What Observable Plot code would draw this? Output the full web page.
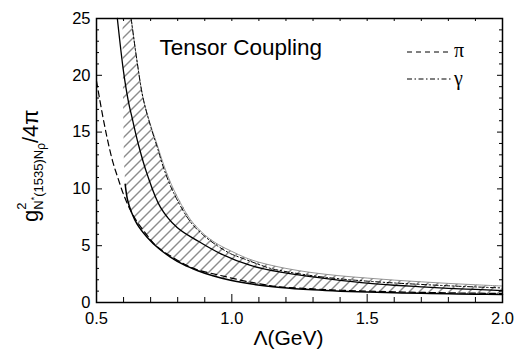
<!DOCTYPE html>
<html><head><meta charset="utf-8">
<script src="https://cdn.jsdelivr.net/npm/d3@7"></script>
<script src="https://cdn.jsdelivr.net/npm/@observablehq/plot@0.6"></script>
<style>body{margin:0;background:#fff} svg{display:block}</style>
</head><body><div id="chart"></div>
<script>
// Central solid curve
const lamC = [0.577, 0.60, 0.617, 0.632, 0.656, 0.687, 0.736, 0.798, 0.872, 0.958, 1.069, 1.18, 1.3, 1.4, 1.5, 1.6, 1.7, 1.8, 1.9, 2.0];
const gC   = [25, 20.3, 17.8, 16.2, 13.8, 11.3, 8.4, 6.6, 5.45, 4.3, 3.26, 2.67, 2.25, 1.95, 1.7, 1.52, 1.38, 1.25, 1.15, 1.05];
// Upper band edge (thin)
const lamU = [0.628, 0.65, 0.672, 0.70, 0.724, 0.75, 0.786, 0.847, 0.90, 0.95, 1.0, 1.05, 1.1, 1.2, 1.3, 1.4, 1.5, 1.6, 1.7, 1.8, 1.9, 2.0];
const gU   = [25, 21.2, 18.0, 15.6, 13.9, 12.0, 9.9, 7.3, 5.95, 5.1, 4.5, 3.95, 3.55, 3.0, 2.62, 2.35, 2.15, 1.97, 1.82, 1.68, 1.56, 1.45];
// Lower band edge (thick)
const lamL = [0.596, 0.598, 0.601, 0.606, 0.615, 0.63, 0.65, 0.687, 0.73, 0.773, 0.82, 0.872, 0.93, 0.995, 1.08, 1.18, 1.3, 1.4, 1.5, 1.6, 1.7, 1.8, 1.9, 2.0];
const gL   = [25, 18, 12.5, 10.4, 9.0, 7.9, 6.9, 5.75, 4.75, 4.0, 3.35, 2.82, 2.35, 1.95, 1.6, 1.33, 1.12, 1.0, 0.92, 0.86, 0.81, 0.77, 0.73, 0.7];
// pi (dashed)
const lamP = [0.50, 0.52, 0.54, 0.56, 0.58, 0.60, 0.626, 0.65, 0.678, 0.72, 0.78, 0.859, 0.958, 1.069, 1.168, 1.3, 1.4, 1.5, 1.6, 1.7, 1.8, 1.9, 2.0];
const gP   = [19.5, 16.8, 14.4, 12.4, 10.9, 9.5, 8.1, 7.1, 6.2, 5.0, 4.0, 3.0, 2.38, 1.79, 1.4, 1.2, 1.08, 1.0, 0.94, 0.89, 0.85, 0.82, 0.8];
// gamma (dash-dot)
const lamG = [0.628, 0.65, 0.672, 0.70, 0.724, 0.75, 0.786, 0.847, 0.896, 0.946, 0.995, 1.044, 1.094, 1.143, 1.2, 1.3, 1.4, 1.5, 1.6, 1.7, 1.8, 1.9, 2.0];
const gG   = [25, 21.2, 18.0, 15.5, 13.7, 11.7, 9.6, 7.1, 5.9, 5.0, 4.3, 3.85, 3.4, 3.0, 2.72, 2.35, 2.08, 1.88, 1.72, 1.59, 1.47, 1.37, 1.28];

const xMajor = [0.5, 1.0, 1.5, 2.0];
const xTickLabels = ["0.5", "1.0", "1.5", "2.0"];
const xMinor = [0.6, 0.7, 0.8, 0.9, 1.1, 1.2, 1.3, 1.4, 1.6, 1.7, 1.8, 1.9];
const yMajor = [0, 5, 10, 15, 20, 25];
const yTickLabels = ["0", "5", "10", "15", "20", "25"];
const yMinor = [1,2,3,4,6,7,8,9,11,12,13,14,16,17,18,19,21,22,23,24];

const pts = (xs, ys) => xs.map((x, i) => ({x, y: ys[i]}));
const center = pts(lamC, gC), upper = pts(lamU, gU), lower = pts(lamL, gL);
const pion = pts(lamP, gP), gamma = pts(lamG, gG);
const band = [...lower, ...upper.slice().reverse()];

const W = 518, H = 356, mL = 96, mR = 16, mT = 18, mB = 54;
const fw = W - mL - mR, fh = H - mT - mB;
const font = "'Liberation Sans', Arial, sans-serif";

const svg = Plot.plot({
  width: W, height: H, marginLeft: mL, marginRight: mR, marginTop: mT, marginBottom: mB,
  x: {domain: [0.5, 2.0], axis: null},
  y: {domain: [0, 25], axis: null},
  style: {fontFamily: font, background: "#fff", color: "#000"},
  marks: [
    Plot.line(band, {x: "x", y: "y", fill: "url(#hatch)", stroke: "none", curve: "linear"}),
    Plot.line(upper, {x: "x", y: "y", stroke: "#8a8a8a", strokeWidth: 0.9, curve: "catmull-rom"}),
    Plot.line(gamma, {x: "x", y: "y", stroke: "#000", strokeWidth: 1, strokeDasharray: "5,2.5,1.5,2.5", curve: "catmull-rom"}),
    Plot.line(pion, {x: "x", y: "y", stroke: "#000", strokeWidth: 1.2, strokeDasharray: "6,4", curve: "catmull-rom"}),
    Plot.line(lower.filter(d => d.y <= 11), {x: "x", y: "y", stroke: "#000", strokeWidth: 1.5, curve: "catmull-rom"}),
    Plot.line(center, {x: "x", y: "y", stroke: "#000", strokeWidth: 1.3, curve: "catmull-rom"}),
    Plot.frame({stroke: "#000", strokeWidth: 1.5}),
    Plot.ruleX(xMajor, {x: d => d, insetTop: fh - 8, stroke: "#000"}),
    Plot.ruleX(xMinor, {x: d => d, insetTop: fh - 5, stroke: "#000"}),
    Plot.ruleX(xMajor.concat(xMinor), {x: d => d, insetBottom: fh - 3, stroke: "#000"}),
    Plot.ruleY(yMajor, {y: d => d, insetRight: fw - 6, stroke: "#000"}),
    Plot.ruleY(yMinor, {y: d => d, insetRight: fw - 3, stroke: "#000"}),
    Plot.ruleY(yMajor, {y: d => d, insetLeft: fw - 5, stroke: "#000"}),
    Plot.ruleY(yMinor, {y: d => d, insetLeft: fw - 3, stroke: "#000"}),
    Plot.text(xMajor, {x: d => d, text: (d, i) => xTickLabels[i], frameAnchor: "bottom", lineAnchor: "middle", textAnchor: "middle", dy: 16, fontSize: 16.5, fill: "#000"}),
    Plot.text(yMajor, {y: d => d, text: (d, i) => yTickLabels[i], frameAnchor: "left", textAnchor: "end", lineAnchor: "middle", dx: -6, fontSize: 16.5, fill: "#000"}),
    Plot.text(["Tensor Coupling"], {text: d => d, frameAnchor: "top-left", textAnchor: "start", lineAnchor: "middle", dx: 63, dy: 29, fontSize: 22.5, fill: "#000"}),
    Plot.text(["Λ(GeV)"], {text: d => d, frameAnchor: "bottom", textAnchor: "middle", lineAnchor: "middle", dx: -11, dy: 36, fontSize: 21, fill: "#000"})
  ]
});

const s = d3.select(svg);
const pat = s.insert("defs", ":first-child").append("pattern")
  .attr("id", "hatch").attr("patternUnits", "userSpaceOnUse").attr("width", 10).attr("height", 10);
pat.append("path").attr("d", "M-1,1 L1,-1 M0,10 L10,0 M9,11 L11,9")
  .attr("stroke", "#000").attr("stroke-width", 0.9).attr("fill", "none");

// Y axis label
const lab = s.append("text").attr("transform", "translate(38,222) rotate(-90)")
  .attr("text-anchor", "start")
  .style("font-family", font).attr("font-size", 22).attr("fill", "#000");
lab.append("tspan").text("g");
lab.append("tspan").attr("font-size", 13).attr("dy", -12).text("2");
lab.append("tspan").attr("font-size", 13).attr("dx", -7.2).attr("dy", 17).text("N");
lab.append("tspan").attr("font-size", 9).attr("dy", -6).text("*");
lab.append("tspan").attr("font-size", 13).attr("dy", 6).text("(1535)N");
lab.append("tspan").attr("font-size", 12).attr("dy", 2).text("ρ");
lab.append("tspan").attr("font-size", 22).attr("dy", -7).text("/4π");

// Legend
const serif = "'Liberation Serif', 'DejaVu Serif', serif";
const lg = s.append("g").attr("text-anchor", "start");
lg.append("line").attr("x1", 407).attr("x2", 451).attr("y1", 52).attr("y2", 52)
  .attr("stroke", "#000").attr("stroke-width", 1).attr("stroke-dasharray", "5,4");
lg.append("text").attr("x", 454).attr("y", 57).style("font-family", serif).attr("font-size", 20).attr("fill", "#000").text("π");
lg.append("line").attr("x1", 407).attr("x2", 451).attr("y1", 79).attr("y2", 79)
  .attr("stroke", "#000").attr("stroke-width", 1).attr("stroke-dasharray", "5,2.5,1.5,2.5");
lg.append("text").attr("x", 454).attr("y", 85).style("font-family", serif).attr("font-size", 20).attr("fill", "#000").text("γ");

document.getElementById("chart").appendChild(svg);
</script>
</body></html>
